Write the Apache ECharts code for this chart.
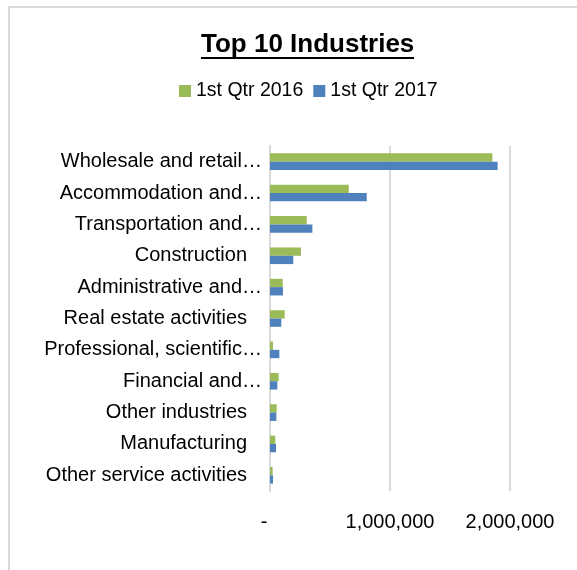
<!DOCTYPE html>
<html>
<head>
<meta charset="utf-8">
<script src="https://cdn.jsdelivr.net/npm/echarts@6/dist/echarts.min.js"></script>
<style>
html,body{margin:0;padding:0;background:#fff;}
#c{width:577px;height:570px;}
</style>
</head>
<body>
<div id="c"></div>
<script>
const categories = ['Wholesale and retail…','Accommodation and…','Transportation and…','Construction','Administrative and…','Real estate activities','Professional, scientific…','Financial and…','Other industries','Manufacturing','Other service activities'];
const seriesNames = ['1st Qtr 2016','1st Qtr 2017'];
const q1_2016 = [1853000, 656000, 306000, 258000, 106000, 122000, 25000, 72000, 56000, 44000, 22000];
const q1_2017 = [1897000, 806000, 353000, 194000, 108000, 94000, 78000, 61000, 53000, 50000, 25000];
const xTickValues = [0, 1000000, 2000000];
const xTickLabels = ['-', '1,000,000', '2,000,000'];

const FONT = '"Liberation Sans", Arial, sans-serif';
const chart = echarts.init(document.getElementById('c'), null, {renderer:'canvas'});
chart.setOption({
  animation:false,
  backgroundColor:'#fff',
  textStyle:{fontFamily:FONT},
  title:{
    text:'Top 10 Industries',
    left:201, top:32, padding:0,
    textStyle:{fontFamily:FONT,fontSize:26,fontWeight:'bold',color:'#000'}
  },
  graphic:[
    {type:'rect',shape:{x:9,y:7,width:600,height:600},style:{fill:'none',stroke:'#d9d9d9',lineWidth:2},silent:true},
    {type:'line',shape:{x1:201,y1:58,x2:414,y2:58},style:{stroke:'#000',lineWidth:2},silent:true}
  ],
  legend:{
    data:seriesNames,
    left:179, top:81, padding:0,
    icon:'rect', itemWidth:12, itemHeight:12, itemGap:10,
    textStyle:{fontFamily:FONT,fontSize:19.5,color:'#000'}
  },
  grid:{left:270,right:67,top:146,bottom:79,containLabel:false},
  xAxis:{
    type:'value', min:0, max:2000000, interval:1000000,
    axisLine:{show:false}, axisTick:{show:false},
    splitLine:{show:true,lineStyle:{color:'#d9d9d9',width:2}},
    axisLabel:{
      margin:21,
      fontFamily:FONT,fontSize:20,color:'#000',
      formatter:function(v){
        const i = xTickValues.indexOf(v);
        const t = i>=0 ? xTickLabels[i] : String(v);
        return v===0 ? '{z|'+t+'}' : '{n|'+t+'}';
      },
      rich:{
        z:{fontFamily:FONT,fontSize:20,color:'#000',padding:[0,12,0,0]},
        n:{fontFamily:FONT,fontSize:20,color:'#000'}
      }
    }
  },
  yAxis:{
    type:'category', data:categories, inverse:true,
    axisLine:{show:true,lineStyle:{color:'#d9d9d9',width:2}},
    axisTick:{show:false},
    splitLine:{show:false},
    axisLabel:{
      margin:8,
      fontFamily:FONT,fontSize:20,color:'#000',
      formatter:function(v){
        return v.endsWith('…') ? '{e|'+v+'}' : '{n|'+v+'}';
      },
      rich:{
        e:{fontFamily:FONT,fontSize:20,color:'#000'},
        n:{fontFamily:FONT,fontSize:20,color:'#000',padding:[0,15,0,0]}
      }
    }
  },
  series:[
    {name:seriesNames[0],type:'bar',data:q1_2016,barGap:'0%',barCategoryGap:'47%',itemStyle:{color:'#9BBB59'}},
    {name:seriesNames[1],type:'bar',data:q1_2017,barGap:'0%',barCategoryGap:'47%',itemStyle:{color:'#4F81BD'}}
  ]
});
</script>
</body>
</html>
